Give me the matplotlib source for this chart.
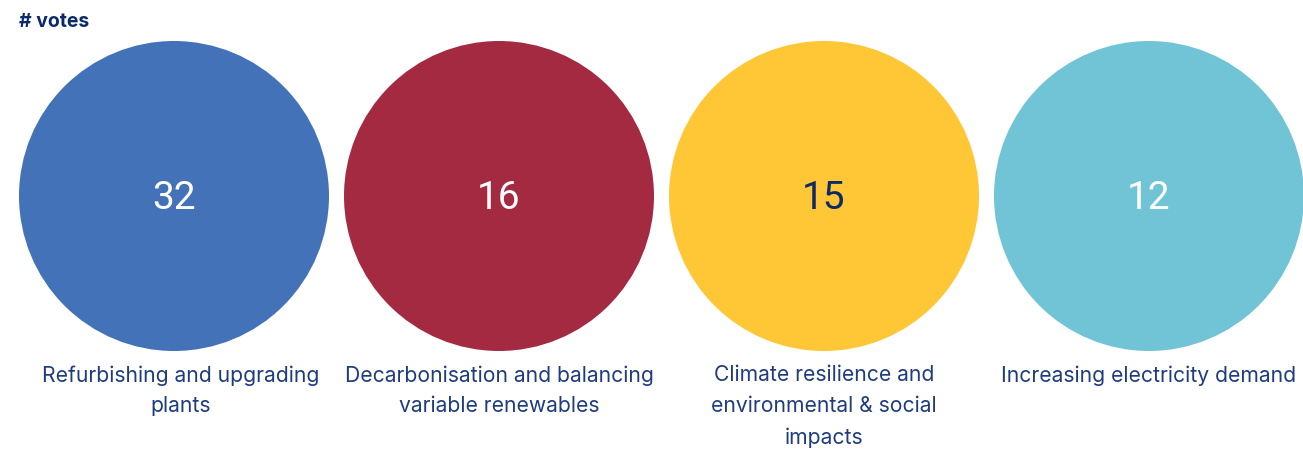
import matplotlib
matplotlib.use("Agg")
import matplotlib.pyplot as plt
from matplotlib.patches import Circle

categories = ["Refurbishing and upgrading\nplants",
              "Decarbonisation and balancing\nvariable renewables",
              "Climate resilience and\nenvironmental & social\nimpacts",
              "Increasing electricity demand"]
votes = [32, 16, 15, 12]
colors = ["#4472B8", "#A32A41", "#FFC636", "#71C4D6"]
num_colors = ["white", "white", "#0E2A66", "white"]
label_color = "#1E3C7E"

W, H = 1303, 450
fig = plt.figure(figsize=(W/100, H/100), dpi=100)
ax = fig.add_axes([0, 0, 1, 1])
ax.set_xlim(0, W)
ax.set_ylim(H, 0)
ax.set_aspect("equal")
ax.axis("off")

x0, dx, cy, r = 174, 325, 196, 155
label_shift = [7, 0, 0, 0]
for i, (cat, v) in enumerate(zip(categories, votes)):
    cx = x0 + i * dx
    ax.add_patch(Circle((cx, cy), r, color=colors[i], lw=0))
    ax.text(cx, cy + 13, str(v), ha="center", va="baseline", fontsize=28,
            family="Roboto", fontweight="normal", color=num_colors[i])
    ax.text(cx + label_shift[i], 365, cat, ha="center", va="top", fontsize=15.2,
            family="Inter", color=label_color, linespacing=1.68)

fig.text(19/W, 1 - 22/H, "# votes", ha="left", va="center", fontsize=14,
         family="Inter", fontweight="bold", color="#0B2A6B")

fig.savefig("out.png", dpi=100)
